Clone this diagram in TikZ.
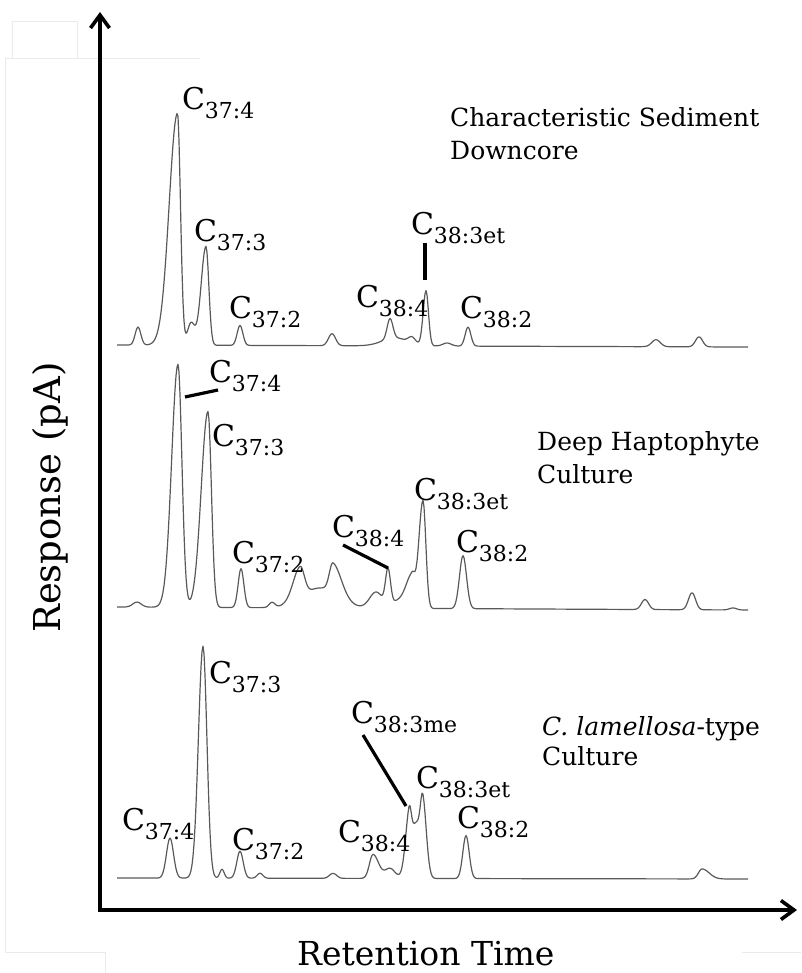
\documentclass[tikz,border=0pt]{standalone}
\usepackage{fontspec}
\setmainfont{DejaVu Serif}
\usetikzlibrary{arrows.meta}
\newcommand\pkl[1]{{\fontsize{30}{30}\selectfont C}\raisebox{-9pt}{\fontsize{22}{22}\selectfont #1}}
\begin{document}
\begin{tikzpicture}[x=1pt,y=-1pt,
  declare function={
    gs(\gx,\gc,\gw)=exp(-((max(min((\gx-\gc)/\gw,4),-4))^2));
    ag(\gx,\gc,\gl,\gr)=exp(-((max(min((\gx-\gc)/(\gl+(\gr-\gl)*(\gx>\gc)),4),-4))^2));
  },
  trace/.style={draw=black!65, line width=1.2pt, line join=round},
  axis/.style={line width=3.6pt, line join=miter},
  leader/.style={line width=3.2pt},
  pk/.style={anchor=base west, inner sep=0pt, outer sep=0pt},
  txt/.style={anchor=base west, inner sep=0pt, font=\fontsize{25}{25}\selectfont},
  faint/.style={draw=black!8, line width=0.6pt}
]
\useasboundingbox (0,0) rectangle (801,973);

% faint frame artefacts
\draw[faint] (12,58) -- (12,21) -- (77,21) -- (77,58);
\draw[faint] (5,952) -- (5,58) -- (200,58);
\draw[faint] (5,952) -- (105,952) -- (105,973);
\draw[faint] (742,952) -- (801,952);

% axes
\coordinate (ytip) at (100,12);
\coordinate (orig) at (100,910);
\coordinate (xtip) at (797,910);
\draw[axis, {Straight Barb[length=13pt,width=19pt]}-{Straight Barb[length=13pt,width=19pt]}] (ytip) -- (orig) -- (xtip);

\node[rotate=90, anchor=base west, inner sep=0pt, font=\fontsize{37}{37}\selectfont] (ylab) at (60,633) {Response (pA)};
\node[anchor=base west, inner sep=0pt, font=\fontsize{33}{33}\selectfont] (xlab) at (297,965) {Retention Time};

% trace 1
\draw[trace] plot[domain=117:748, samples=632] (\x, {345+0.0032*(\x-117) - (
 18*gs(\x,138,4)
 +232*ag(\x,177.5,11.8,4.2)
 +22*gs(\x,191,5)
 +99*ag(\x,206,7,4)
 +20*gs(\x,240,4)
 +12*gs(\x,332,5)
 +8*gs(\x,395,18)
 +20*gs(\x,390,4)
 +6*gs(\x,412,5)
 +55*ag(\x,426,4,3.5)
 +3*gs(\x,447,6)
 +19*gs(\x,468,4)
 +7*gs(\x,656,6)
 +10*gs(\x,699,5))});

% trace 2
\draw[trace] plot[domain=117:748, samples=632] (\x, {607+0.0048*(\x-117) - (
 5*gs(\x,137,6)
 +243*ag(\x,178,9,5.5)
 +196*ag(\x,208,9.6,4.8)
 +39*gs(\x,241,4)
 +5*gs(\x,272,4)
 +20*gs(\x,320,25)
 +31*ag(\x,300,10,6)
 +30*ag(\x,333,5,12)
 +16*gs(\x,376,9)
 +35*gs(\x,388,3.5)
 +8*gs(\x,400,12)
 +30*ag(\x,412,8,4)
 +108*ag(\x,423,6,4)
 +53*gs(\x,463,5)
 +10*gs(\x,645,5)
 +17*gs(\x,692,5)
 +2*gs(\x,733,5))});

% trace 3
\draw[trace] plot[domain=117:748, samples=632] (\x, {878+0.0016*(\x-117) - (
 40*gs(\x,170,5)
 +232*ag(\x,203,6.5,5.5)
 +9*gs(\x,222,3)
 +27*gs(\x,240,4.5)
 +5*gs(\x,260,4)
 +5*gs(\x,333,5)
 +24*ag(\x,373,5,8)
 +10*gs(\x,390,7)
 +55*ag(\x,416,9,7)
 +42*ag(\x,409,5,3)
 +64*ag(\x,423,3.5,5)
 +43*gs(\x,466,4.5)
 +10*ag(\x,702,5,10))});

% labels trace 1
\node[pk] (a1) at (182,110) {\pkl{37:4}};
\node[pk] (a2) at (194,242) {\pkl{37:3}};
\node[pk] (a3) at (229,318) {\pkl{37:2}};
\node[pk] (a4) at (356,307) {\pkl{38:4}};
\node[pk] (a5) at (411,235) {\pkl{38:3et}};
\node[pk] (a6) at (460,318) {\pkl{38:2}};
\coordinate (a5s) at (425,243);
\coordinate (a5p) at (425,280);
\draw[leader] (a5s) -- (a5p);
\node[txt] (t1a) at (450,127) {Characteristic Sediment};
\node[txt] (t1b) at (450,160) {Downcore};

% labels trace 2
\node[pk] (b1) at (209,382) {\pkl{37:4}};
\node[pk] (b2) at (212,446) {\pkl{37:3}};
\node[pk] (b3) at (232,563) {\pkl{37:2}};
\node[pk] (b4) at (332,537) {\pkl{38:4}};
\node[pk] (b5) at (414,500) {\pkl{38:3et}};
\node[pk] (b6) at (456,552) {\pkl{38:2}};
\coordinate (b1s) at (218,390);
\coordinate (b1p) at (185,397);
\draw[leader] (b1s) -- (b1p);
\coordinate (b4s) at (343,545);
\coordinate (b4p) at (388,568);
\draw[leader] (b4s) -- (b4p);
\node[txt] (t2a) at (537,450) {Deep Haptophyte};
\node[txt] (t2b) at (537,483) {Culture};

% labels trace 3
\node[pk] (c1) at (122,830) {\pkl{37:4}};
\node[pk] (c2) at (209,683) {\pkl{37:3}};
\node[pk] (c3) at (232,850) {\pkl{37:2}};
\node[pk] (c4) at (338,842) {\pkl{38:4}};
\node[pk] (c5) at (351,723) {\pkl{38:3me}};
\node[pk] (c6) at (416,788) {\pkl{38:3et}};
\node[pk] (c7) at (457,828) {\pkl{38:2}};
\coordinate (c5s) at (363,735);
\coordinate (c5p) at (406,806);
\draw[leader] (c5s) -- (c5p);
\node[txt] (t3a) at (542,735) {\textit{C. lamellosa}-type};
\node[txt] (t3b) at (542,765) {Culture};
\end{tikzpicture}
\end{document}
